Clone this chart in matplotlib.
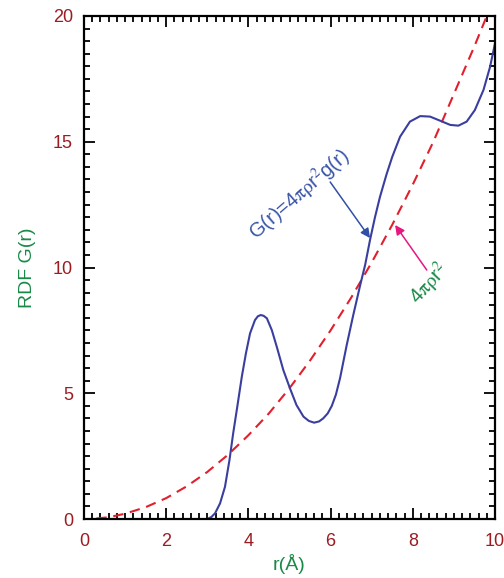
import numpy as np
import matplotlib
matplotlib.use('Agg')
from matplotlib import pyplot as plt
from matplotlib.ticker import MultipleLocator

plt.rcParams['font.family'] = ['Liberation Sans', 'DejaVu Sans']
plt.rcParams['mathtext.fontset'] = 'stix'

# G(r) = 4 pi rho r^2 g(r)
r_g = [3.0, 3.1, 3.19, 3.31, 3.43, 3.54, 3.63, 3.73, 3.84, 3.94, 4.04, 4.16,
       4.23, 4.30, 4.37, 4.45, 4.57, 4.69, 4.85, 5.01, 5.17, 5.34, 5.47, 5.60, 5.72, 5.82,
       5.93, 6.03, 6.13, 6.23, 6.39, 6.55, 6.72, 6.84, 6.96, 7.08, 7.2, 7.36,
       7.5, 7.69, 7.93, 8.18, 8.42, 8.66, 8.91, 9.11, 9.31, 9.51, 9.72, 9.88, 10.0]
G = [0.0, 0.08, 0.23, 0.62, 1.28, 2.35, 3.41, 4.47, 5.66, 6.59, 7.38, 7.91,
     8.06, 8.11, 8.08, 7.98, 7.51, 6.85, 5.92, 5.20, 4.53, 4.07, 3.90, 3.83, 3.88, 4.0,
     4.2, 4.5, 4.95, 5.6, 6.9, 8.1, 9.3, 10.1, 11.1, 12.0, 12.8, 13.7,
     14.4, 15.2, 15.8, 16.02, 16.0, 15.84, 15.67, 15.64, 15.8, 16.26, 17.06, 17.98, 18.91]

# 4 pi rho r^2 (dashed)
r_ref = [0.3, 0.6, 1.0, 1.5, 2.0, 2.5, 3.0, 3.5, 4.0, 4.5, 5.0, 5.5, 6.0, 6.5,
         7.0, 7.5, 8.0, 8.5, 9.0, 9.5, 9.8]
G_ref = [0.02, 0.07, 0.21, 0.47, 0.83, 1.3, 1.87, 2.55, 3.33, 4.2, 5.2, 6.3,
         7.5, 8.8, 10.2, 11.7, 13.3, 15.0, 16.9, 18.8, 20.0]

tick_col = '#9b1c22'
lab_col = '#1a8a48'

fig = plt.figure(figsize=(5.04, 5.78), dpi=100)
ax = fig.add_axes([84/504, 59/578, 411/504, 503/578])

ax.plot(r_ref, G_ref, '--', color='#e0202c', lw=1.5, dashes=(5, 3.2))
ax.plot(r_g, G, '-', color='#3a3e9e', lw=1.5)

ax.set_xlim(0, 10)
ax.set_ylim(0, 20)
ax.xaxis.set_major_locator(MultipleLocator(2))
ax.xaxis.set_minor_locator(MultipleLocator(0.2))
ax.yaxis.set_major_locator(MultipleLocator(5))
ax.yaxis.set_minor_locator(MultipleLocator(0.5))
ax.tick_params(which='both', direction='in', top=True, right=True,
               labelcolor=tick_col, labelsize=13, width=1.3)
ax.tick_params(axis='x', pad=10)
ax.tick_params(axis='y', pad=8)
ax.tick_params(which='major', length=8)
ax.tick_params(which='minor', length=4.5)
for s in ax.spines.values():
    s.set_linewidth(1.6)

ax.set_xlabel('r(Å)', color=lab_col, fontsize=14, labelpad=3)
ax.set_ylabel('RDF G(r)', color=lab_col, fontsize=14, labelpad=12)

ax.annotate('', xy=(6.96, 11.17), xytext=(5.99, 13.4),
            arrowprops=dict(arrowstyle='-|>', color='#3050a8', lw=1.1,
                            mutation_scale=14, shrinkA=0, shrinkB=0))
ax.text(4.2, 11.05, r'G(r)=4$\mathrm{\pi\rho}$r$^2$g(r)', color='#3a55a8', fontsize=14.5,
        rotation=41, ha='left', va='baseline', rotation_mode='anchor')

ax.annotate('', xy=(7.57, 11.69), xytext=(8.34, 9.9),
            arrowprops=dict(arrowstyle='-|>', color='#e8167e', lw=1.1,
                            mutation_scale=14, shrinkA=0, shrinkB=0))
ax.text(8.12, 8.5, r'4$\mathrm{\pi\rho}$r$^2$', color=lab_col, fontsize=14.5,
        rotation=47, ha='left', va='baseline', rotation_mode='anchor')

fig.savefig('out.png', dpi=100)
